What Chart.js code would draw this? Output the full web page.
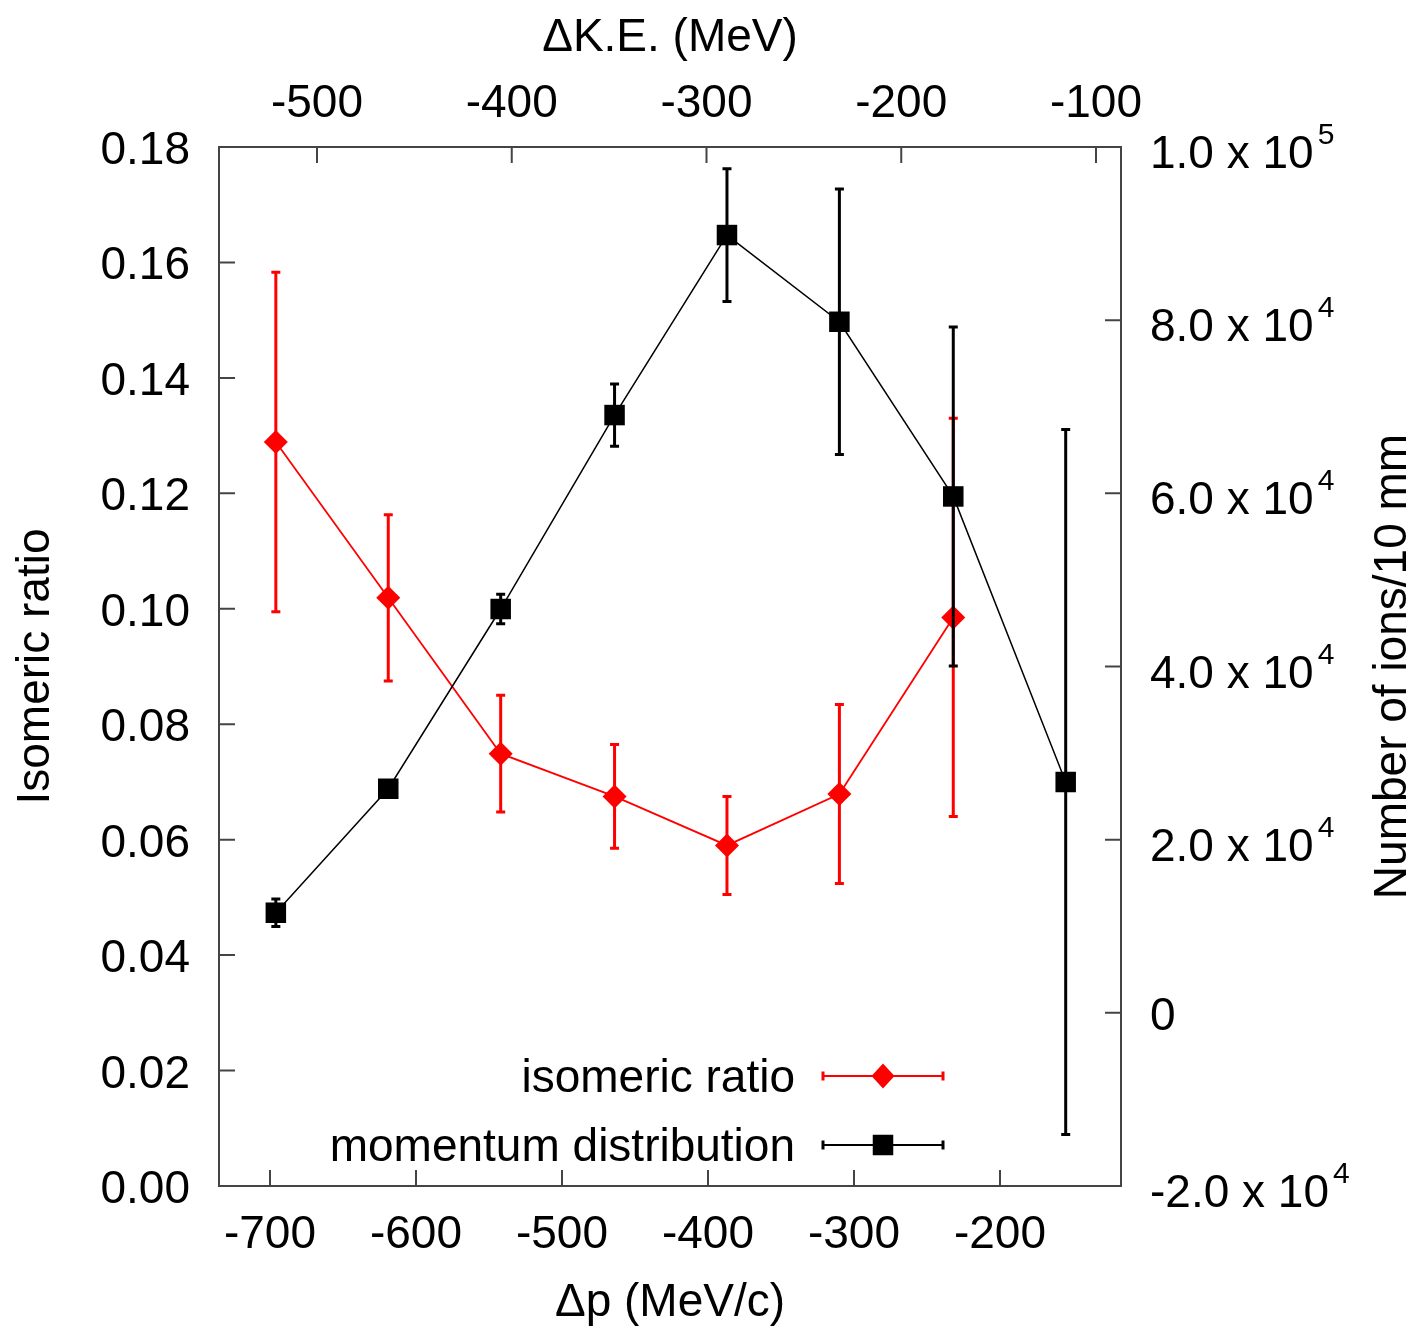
<!DOCTYPE html>
<html><head><meta charset="utf-8">
<script src="https://cdn.jsdelivr.net/npm/chart.js@4.4.1/dist/chart.umd.min.js"></script>
<style>html,body{margin:0;padding:0;background:#fff;}#wrap{width:1415px;height:1327px;}</style>
</head><body><div id="wrap"><canvas id="c" width="1415" height="1327"></canvas></div>
<script>
// ---- data ----
const momentum = [-696, -619, -542, -464, -387, -310, -232, -155];
const ratioValues = [0.1289, 0.1019, 0.0749, 0.0675, 0.0590, 0.0679, 0.0985];
const ratioErrors = [0.0294, 0.0144, 0.0101, 0.0090, 0.0085, 0.0155, 0.0345];
const countValues = [11560, 25880, 46640, 69040, 89830, 79815, 59640, 26660];
const countErrors = [1600, 500, 1700, 3600, 7660, 15340, 19580, 40700];
const bottomTicks = [-700, -600, -500, -400, -300, -200];
const topTicks = [-500, -400, -300, -200, -100];
const leftTicks = [0, 0.02, 0.04, 0.06, 0.08, 0.10, 0.12, 0.14, 0.16, 0.18];
const leftTickLabels = ['0.00','0.02','0.04','0.06','0.08','0.10','0.12','0.14','0.16','0.18'];
const rightTicks = [-20000, 0, 20000, 40000, 60000, 80000, 100000];
const rightTickMantissas = ['-2.0 x 10', '0', '2.0 x 10', '4.0 x 10', '6.0 x 10', '8.0 x 10', '1.0 x 10'];
const rightTickExponents = ['4', '', '4', '4', '4', '4', '5'];
const seriesNames = ['isomeric ratio', 'momentum distribution'];
const titles = {bottom: '\u0394p (MeV/c)', top: '\u0394K.E. (MeV)', left: 'Isomeric ratio', right: 'Number of ions/10 mm'};

const FONT = '"Liberation Sans", Arial, Helvetica, sans-serif';
const FS = 46;
const RED = '#ff0000', BLACK = '#000000', FRAME = '#444444';

function drawMarker(ctx, style, x, y, r, color) {
  ctx.save();
  ctx.fillStyle = color;
  ctx.beginPath();
  if (style === 'rectRot') {
    ctx.moveTo(x, y - r * 1.08); ctx.lineTo(x + r, y); ctx.lineTo(x, y + r * 1.08); ctx.lineTo(x - r, y);
  } else {
    const s = r * Math.SQRT1_2;
    ctx.rect(x - s, y - s, 2 * s, 2 * s);
  }
  ctx.closePath(); ctx.fill();
  ctx.restore();
}

const errorBars = {
  id: 'errorBars',
  beforeDatasetDraw(chart, args) {
    const ds = chart.data.datasets[args.index];
    const meta = args.meta;
    const ys = chart.scales[ds.yAxisID];
    const ctx = chart.ctx;
    ctx.save();
    ctx.strokeStyle = ds.borderColor;
    ctx.lineWidth = 3;
    ds.errors.forEach((e, i) => {
      const el = meta.data[i];
      const v = ds.data[i].y;
      const x = el.x;
      const yt = ys.getPixelForValue(v + e), yb = ys.getPixelForValue(v - e);
      ctx.beginPath();
      ctx.moveTo(x, yt); ctx.lineTo(x, yb);
      ctx.moveTo(x - 4.5, yt); ctx.lineTo(x + 4.5, yt);
      ctx.moveTo(x - 4.5, yb); ctx.lineTo(x + 4.5, yb);
      ctx.stroke();
    });
    ctx.restore();
  }
};

const axesDecor = {
  id: 'axesDecor',
  beforeDatasetsDraw(chart) {
    const ctx = chart.ctx, a = chart.chartArea;
    const sx = chart.scales.x, sx2 = chart.scales.x2, sy = chart.scales.y, sy2 = chart.scales.y2;
    ctx.save();
    ctx.strokeStyle = FRAME; ctx.lineWidth = 2;
    ctx.strokeRect(a.left, a.top, a.right - a.left, a.bottom - a.top);
    const L = 16;
    ctx.beginPath();
    bottomTicks.forEach(v => { const p = sx.getPixelForValue(v); ctx.moveTo(p, a.bottom); ctx.lineTo(p, a.bottom - L); });
    topTicks.forEach(v => { const p = sx2.getPixelForValue(v); ctx.moveTo(p, a.top); ctx.lineTo(p, a.top + L); });
    leftTicks.forEach(v => { const p = sy.getPixelForValue(v); ctx.moveTo(a.left, p); ctx.lineTo(a.left + L, p); });
    rightTicks.forEach(v => { const p = sy2.getPixelForValue(v); ctx.moveTo(a.right, p); ctx.lineTo(a.right - L, p); });
    ctx.stroke();

    ctx.fillStyle = '#000';
    ctx.font = FS + 'px ' + FONT;
    ctx.textBaseline = 'alphabetic';
    ctx.textAlign = 'center';
    bottomTicks.forEach(v => ctx.fillText(String(v), sx.getPixelForValue(v), a.bottom + 62));
    topTicks.forEach(v => ctx.fillText(String(v), sx2.getPixelForValue(v), a.top - 30));
    ctx.textAlign = 'right';
    leftTicks.forEach((v, i) => ctx.fillText(leftTickLabels[i], a.left - 29, sy.getPixelForValue(v) + 17));
    ctx.textAlign = 'left';
    rightTicks.forEach((v, i) => {
      const p = sy2.getPixelForValue(v);
      const m = rightTickMantissas[i], e = rightTickExponents[i];
      const x0 = a.right + 29;
      ctx.font = FS + 'px ' + FONT;
      if (!e) { ctx.fillText(m, x0, p + 17); return; }
      const base = p + 21;
      ctx.fillText(m, x0, base);
      const w = ctx.measureText(m).width;
      ctx.font = '30px ' + FONT;
      ctx.fillText(e, x0 + w + 4, base - 24);
    });

    // axis titles
    ctx.font = FS + 'px ' + FONT;
    ctx.textAlign = 'center';
    const cx = (a.left + a.right) / 2, cy = (a.top + a.bottom) / 2;
    ctx.fillText(titles.bottom, cx, 1316);
    ctx.fillText(titles.top, cx, 51);
    ctx.save(); ctx.translate(49, cy); ctx.rotate(-Math.PI / 2); ctx.fillText(titles.left, 0, 0); ctx.restore();
    ctx.save(); ctx.translate(1406, cy); ctx.rotate(-Math.PI / 2); ctx.fillText(titles.right, 0, 0); ctx.restore();
    ctx.restore();
  },
  afterDraw(chart) {
    const ctx = chart.ctx;
    ctx.save();
    ctx.font = FS + 'px ' + FONT;
    ctx.fillStyle = '#000';
    ctx.textAlign = 'right';
    ctx.textBaseline = 'alphabetic';
    const rows = [{y: 1076, c: RED, s: 'rectRot', r: 11.5, lw: 2}, {y: 1145, c: BLACK, s: 'rect', r: 14.5, lw: 2}];
    rows.forEach((row, i) => {
      ctx.fillStyle = '#000';
      ctx.fillText(seriesNames[i], 795, row.y + 16);
      ctx.strokeStyle = row.c; ctx.lineWidth = row.lw;
      ctx.beginPath();
      ctx.moveTo(823, row.y); ctx.lineTo(943, row.y);
      ctx.stroke();
      ctx.lineWidth = 3;
      ctx.beginPath();
      ctx.moveTo(823, row.y - 4.5); ctx.lineTo(823, row.y + 4.5);
      ctx.moveTo(943, row.y - 4.5); ctx.lineTo(943, row.y + 4.5);
      ctx.stroke();
      drawMarker(ctx, row.s, 883, row.y, row.r, row.c);
    });
    ctx.restore();
  }
};

new Chart(document.getElementById('c'), {
  type: 'line',
  data: {
    datasets: [
      {
        label: seriesNames[0],
        data: ratioValues.map((v, i) => ({x: momentum[i], y: v})),
        errors: ratioErrors,
        xAxisID: 'x', yAxisID: 'y',
        borderColor: RED, backgroundColor: RED, borderWidth: 1.8,
        pointStyle: 'rectRot', pointRadius: 12, pointBorderWidth: 0,
        pointBackgroundColor: RED, tension: 0, fill: false, order: 2
      },
      {
        label: seriesNames[1],
        data: countValues.map((v, i) => ({x: momentum[i], y: v})),
        errors: countErrors,
        xAxisID: 'x', yAxisID: 'y2',
        borderColor: BLACK, backgroundColor: BLACK, borderWidth: 1.5,
        pointStyle: 'rect', pointRadius: 14.5, pointBorderWidth: 0,
        pointBackgroundColor: BLACK, tension: 0, fill: false, order: 1
      }
    ]
  },
  options: {
    responsive: false,
    animation: false,
    events: [],
    devicePixelRatio: 1,
    layout: {padding: {left: 219, right: 294, top: 147, bottom: 141}},
    plugins: {legend: {display: false}, tooltip: {enabled: false}, title: {display: false}},
    scales: {
      x: {type: 'linear', position: 'bottom', min: -734.93, max: -117.12, display: false},
      x2: {type: 'linear', axis: 'x', position: 'top', min: -550.32, max: -87.16, display: false},
      y: {type: 'linear', position: 'left', min: 0, max: 0.18, display: false},
      y2: {type: 'linear', axis: 'y', position: 'right', min: -20000, max: 100000, display: false}
    }
  },
  plugins: [errorBars, axesDecor]
});
</script>
</body></html>
